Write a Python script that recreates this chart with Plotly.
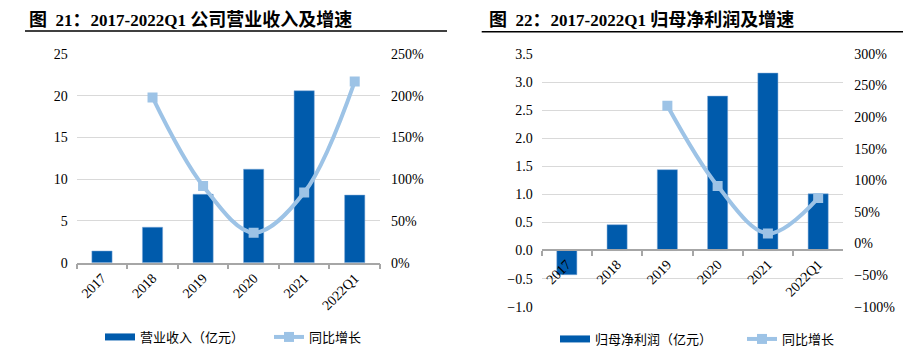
import plotly.graph_objects as go

W, H = 919, 354

categories = ["2017", "2018", "2019", "2020", "2021", "2022Q1"]
revenue = [1.4, 4.25, 8.2, 11.2, 20.6, 8.1]
revenue_growth = [None, 198, 92, 36, 84, 217]
profit = [-0.43, 0.46, 1.44, 2.75, 3.16, 1.01]
profit_growth = [None, None, 218, 91, 16, 72]

left_title_num = "21："
left_title_span = "2017-2022Q1"
left_title_text = "公司营业收入及增速"
right_title_num = "22："
right_title_span = "2017-2022Q1"
right_title_text = "归母净利润及增速"
rev_name = "营业收入（亿元）"
prof_name = "归母净利润（亿元）"
growth_name = "同比增长"

BAR = "#005BAC"
LINE = "#9DC3E6"
GRID = "#D9D9D9"
AXIS = "#A6A6A6"
SERIF = "Liberation Serif, Times New Roman, serif"
CJK = "Noto Sans CJK SC"

def px(x):
    return x / W

def py(y):
    return 1 - y / H

fig = go.Figure()

line_style = dict(color=LINE, width=4, shape="spline", smoothing=1.0)
marker_style = dict(symbol="square", size=10, color=LINE)

# Left chart
fig.add_trace(go.Bar(x=categories, y=revenue, marker=dict(color=BAR, line=dict(color="#7FA8D8", width=0.5)),
                     width=0.4, xaxis="x", yaxis="y", showlegend=False))
fig.add_trace(go.Scatter(x=categories, y=revenue_growth, mode="lines+markers",
                         line=line_style, marker=marker_style,
                         xaxis="x", yaxis="y2", showlegend=False))
fig.add_trace(go.Scatter(x=[None], y=[None], mode="lines", name=rev_name,
                         line=dict(color=BAR, width=7), xaxis="x", yaxis="y", legend="legend"))
fig.add_trace(go.Scatter(x=[None], y=[None], mode="lines+markers", name=growth_name,
                         line=dict(color=LINE, width=4), marker=marker_style,
                         xaxis="x", yaxis="y2", legend="legend"))

# Right chart
fig.add_trace(go.Bar(x=categories, y=profit, marker=dict(color=BAR, line=dict(color="#7FA8D8", width=0.5)),
                     width=0.4, xaxis="x2", yaxis="y3", showlegend=False))
fig.add_trace(go.Scatter(x=categories, y=profit_growth, mode="lines+markers",
                         line=line_style, marker=marker_style,
                         xaxis="x2", yaxis="y4", showlegend=False))
fig.add_trace(go.Scatter(x=[None], y=[None], mode="lines", name=prof_name,
                         line=dict(color=BAR, width=7), xaxis="x2", yaxis="y3", legend="legend2"))
fig.add_trace(go.Scatter(x=[None], y=[None], mode="lines+markers", name=growth_name,
                         line=dict(color=LINE, width=4), marker=marker_style,
                         xaxis="x2", yaxis="y4", legend="legend2"))

tickfont = dict(family=SERIF, size=14, color="#000000")

xcommon = dict(type="category", showgrid=False, showline=True, linecolor=AXIS, linewidth=1.5,
               ticks="outside", tickson="boundaries", ticklen=5, tickcolor=AXIS, tickwidth=1.5,
               tickangle=-45, tickfont=tickfont, zeroline=False, fixedrange=True, automargin=False)

ytop = py(54)
fig.update_layout(
    width=W, height=H, margin=dict(l=0, r=0, t=0, b=0, autoexpand=False),
    paper_bgcolor="white", plot_bgcolor="white",
    xaxis=dict(domain=[px(76.7), px(380)], anchor="y", **xcommon),
    yaxis=dict(domain=[py(262.7), ytop], range=[0, 25], dtick=5, showgrid=True, gridcolor=GRID,
               gridwidth=1.2, zeroline=False, showline=False, tickfont=tickfont, ticks="", ticklabelstandoff=8,
               automargin=False),
    yaxis2=dict(overlaying="y", side="right", anchor="x", range=[0, 250], dtick=50, ticksuffix="%",
                showgrid=False, zeroline=False, showline=False, tickfont=tickfont, ticklabelstandoff=10,
                automargin=False),
    xaxis2=dict(domain=[px(541.7), px(843.3)], anchor="free", position=py(250), **xcommon),
    yaxis3=dict(domain=[py(306.7), ytop], anchor="x2", range=[-1, 3.5], dtick=0.5, tickformat=".1f",
                showgrid=True, gridcolor=GRID, gridwidth=1.2, zeroline=False, showline=False,
                tickfont=tickfont, ticks="", ticklabelstandoff=8, automargin=False),
    yaxis4=dict(overlaying="y3", side="right", anchor="x2", range=[-100, 300], dtick=50, ticksuffix="%",
                showgrid=False, zeroline=False, showline=False, tickfont=tickfont, ticklabelstandoff=10,
                automargin=False),
    legend=dict(orientation="h", x=px(100), y=py(337), xanchor="left", yanchor="middle",
                font=dict(family=CJK, size=13, color="#000000"), entrywidth=124, entrywidthmode="pixels",
                bgcolor="rgba(0,0,0,0)"),
    legend2=dict(orientation="h", x=px(555), y=py(339), xanchor="left", yanchor="middle",
                 font=dict(family=CJK, size=13, color="#000000"), entrywidth=142, entrywidthmode="pixels",
                 bgcolor="rgba(0,0,0,0)"),
)

def title_html(num, span, text):
    cjk = "<span style='font-family:Noto Sans CJK SC;font-size:18px'>"
    return ("<b>" + cjk + "图</span>&nbsp;&nbsp;" + num[:-1] + cjk + num[-1] + "</span>"
            + span + "&nbsp;" + cjk + text + "</span></b>")

title_font = dict(family=SERIF, size=17, color="#000000")
fig.add_annotation(x=px(27), y=py(18), xref="paper", yref="paper",
                   text=title_html(left_title_num, left_title_span, left_title_text),
                   showarrow=False, xanchor="left", yanchor="middle", font=title_font)
fig.add_annotation(x=px(486.7), y=py(18), xref="paper", yref="paper",
                   text=title_html(right_title_num, right_title_span, right_title_text),
                   showarrow=False, xanchor="left", yanchor="middle", font=title_font)
fig.add_shape(type="line", xref="paper", yref="paper", x0=px(25), x1=px(447), y0=py(31), y1=py(31),
              line=dict(color="#000000", width=1.5))
fig.add_shape(type="line", xref="paper", yref="paper", x0=px(481.7), x1=px(903), y0=py(31.7), y1=py(31.7),
              line=dict(color="#000000", width=1.5))

fig.write_html("out.html")
